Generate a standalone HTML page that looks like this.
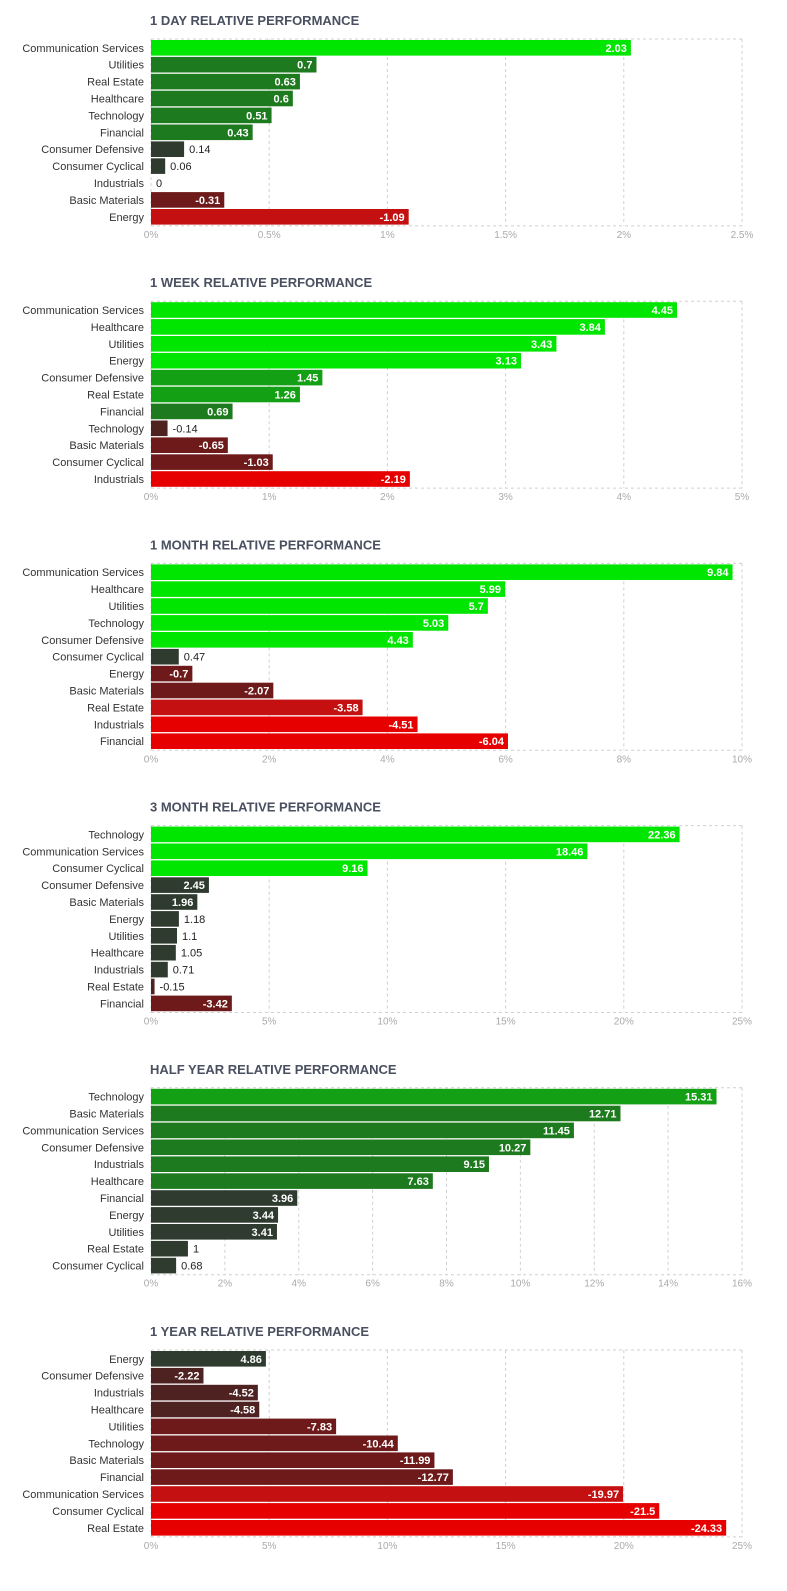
<!DOCTYPE html>
<html><head><meta charset="utf-8">
<style>
html,body{margin:0;padding:0;background:#fff;}
svg{display:block;font-family:"Liberation Sans",sans-serif;}
</style></head>
<body>
<svg id="chart" width="787" height="1591" viewBox="0 0 787 1591" xmlns="http://www.w3.org/2000/svg"></svg>
<script>
const titles = ["1 DAY RELATIVE PERFORMANCE","1 WEEK RELATIVE PERFORMANCE","1 MONTH RELATIVE PERFORMANCE","3 MONTH RELATIVE PERFORMANCE","HALF YEAR RELATIVE PERFORMANCE","1 YEAR RELATIVE PERFORMANCE"];
const cats0 = ["Communication Services","Utilities","Real Estate","Healthcare","Technology","Financial","Consumer Defensive","Consumer Cyclical","Industrials","Basic Materials","Energy"];
const vals0 = [2.03,0.7,0.63,0.6,0.51,0.43,0.14,0.06,0,-0.31,-1.09];
const cats1 = ["Communication Services","Healthcare","Utilities","Energy","Consumer Defensive","Real Estate","Financial","Technology","Basic Materials","Consumer Cyclical","Industrials"];
const vals1 = [4.45,3.84,3.43,3.13,1.45,1.26,0.69,-0.14,-0.65,-1.03,-2.19];
const cats2 = ["Communication Services","Healthcare","Utilities","Technology","Consumer Defensive","Consumer Cyclical","Energy","Basic Materials","Real Estate","Industrials","Financial"];
const vals2 = [9.84,5.99,5.7,5.03,4.43,0.47,-0.7,-2.07,-3.58,-4.51,-6.04];
const cats3 = ["Technology","Communication Services","Consumer Cyclical","Consumer Defensive","Basic Materials","Energy","Utilities","Healthcare","Industrials","Real Estate","Financial"];
const vals3 = [22.36,18.46,9.16,2.45,1.96,1.18,1.1,1.05,0.71,-0.15,-3.42];
const cats4 = ["Technology","Basic Materials","Communication Services","Consumer Defensive","Industrials","Healthcare","Financial","Energy","Utilities","Real Estate","Consumer Cyclical"];
const vals4 = [15.31,12.71,11.45,10.27,9.15,7.63,3.96,3.44,3.41,1,0.68];
const cats5 = ["Energy","Consumer Defensive","Industrials","Healthcare","Utilities","Technology","Basic Materials","Financial","Communication Services","Consumer Cyclical","Real Estate"];
const vals5 = [4.86,-2.22,-4.52,-4.58,-7.83,-10.44,-11.99,-12.77,-19.97,-21.5,-24.33];
const axisMax = [2.5,5,10,25,16,25];
const tickStep = [0.5,1,2,5,2,5];
const shadeThresholds = [[0.3,1,2],[0.5,1.2,2.1],[0.6,3,4.4],[3,8,9],[5,15,20],[7,15,21]];

const allCats=[cats0,cats1,cats2,cats3,cats4,cats5];
const allVals=[vals0,vals1,vals2,vals3,vals4,vals5];
const posPal=["#2e3b2e","#1e7a1e","#14a014","#00e600"];
const negPal=["#4f2222","#6e1a1a","#c41010","#e60000"];
const NS="http://www.w3.org/2000/svg";
const svg=document.getElementById('chart');
function mk(tag,attrs,parent){const e=document.createElementNS(NS,tag);for(const k in attrs)e.setAttribute(k,attrs[k]);(parent||svg).appendChild(e);return e;}
const X0=151, X1=742, ROW=16.9, BH=15.6;
function fmtTick(v){return (Math.round(v*10)/10)+"%";}
for(let c=0;c<6;c++){
  const g=mk('g',{});
  
  
  const top=20+262.2*c;
  const t=mk('text',{x:150,y:top+5,'font-size':13,'font-weight':'bold',fill:'#4a5060'},g);
  t.textContent=titles[c];
  
  
  const pt=top+19, pb=pt+ROW*11+1;
  const sx=v=>X0+(v/axisMax[c])*(X1-X0);
  // grid
  for(let v=0;v<=axisMax[c]+1e-9;v+=tickStep[c]){
    const x=sx(v);
    const gl=mk('line',{x1:x,x2:x,y1:pt,y2:pb,stroke:'#d0d0d0','stroke-dasharray':'3,3'},g);
    
    
    const tl=mk('text',{x:x,y:pb+12,'font-size':10,fill:'#aaa','text-anchor':'middle'},g);
    tl.textContent=fmtTick(v);
    
    
  }
  const tb=mk('line',{x1:X0,x2:X1,y1:pt,y2:pt,stroke:'#d0d0d0','stroke-dasharray':'3,3'},g);
  
  
  const bb=mk('line',{x1:X0,x2:X1,y1:pb,y2:pb,stroke:'#d0d0d0','stroke-dasharray':'3,3'},g);
  
  
  const cats=allCats[c], vals=allVals[c], th=shadeThresholds[c];
  for(let i=0;i<cats.length;i++){
    const v=vals[i], a=Math.abs(v);
    let lvl=0; if(a>=th[0])lvl=1; if(a>=th[1])lvl=2; if(a>=th[2])lvl=3;
    const y=pt+1+i*ROW;
    const w=sx(a)-X0;
    const cl=mk('text',{x:144,y:y+BH/2+4,'font-size':11,fill:'#333','text-anchor':'end'},g);
    cl.textContent=cats[i];
    
    
    const r=mk('rect',{x:X0,y:y,width:Math.max(w,0),height:BH,fill:v>=0?posPal[lvl]:negPal[lvl]},g);
    
    
    const inside=w>40;
    const vl=mk('text',{x:inside?X0+w-4:X0+w+5,y:y+BH/2+4,'font-size':11,'font-weight':inside?'bold':'normal',fill:inside?'#fff':'#222','text-anchor':inside?'end':'start'},g);
    vl.textContent=String(v);
    
    
  }
}
</script>
</body></html>
